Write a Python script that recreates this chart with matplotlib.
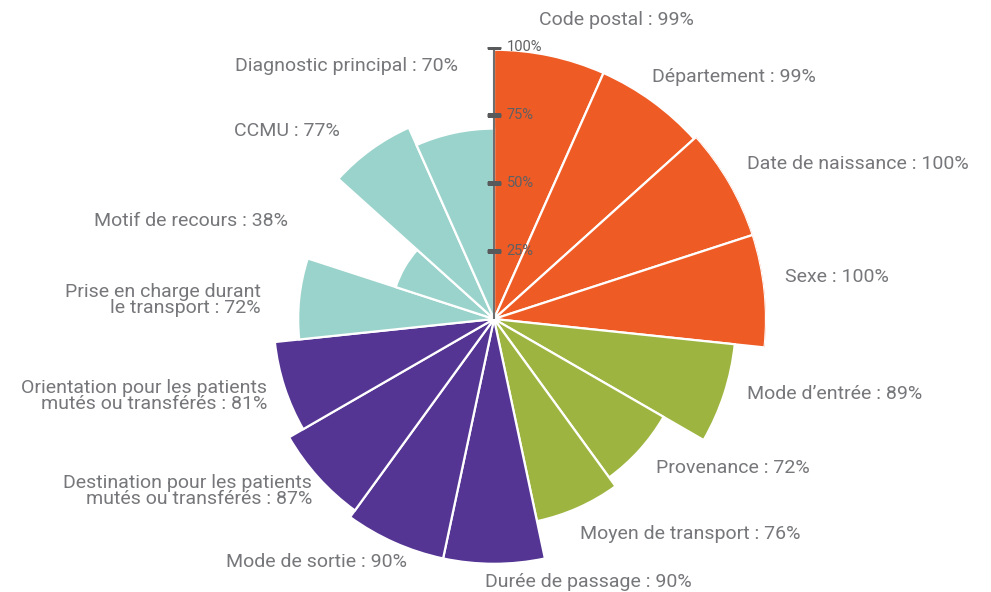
"""
polar bar chart: completeness of fields (RPU)
"""

import numpy as np
import matplotlib
matplotlib.use('Agg')
import matplotlib.pyplot as plt

# data, clockwise from the top
labels = ['Code postal : 99%',
          'Département : 99%',
          'Date de naissance : 100%',
          'Sexe : 100%',
          'Mode d\u2019entrée : 89%',
          'Provenance : 72%',
          'Moyen de transport : 76%',
          'Durée de passage : 90%',
          'Mode de sortie : 90%',
          'Destination pour les patients\nmutés ou transférés : 87%',
          'Orientation pour les patients\nmutés ou transférés : 81%',
          'Prise en charge durant\nle transport : 72%',
          'Motif de recours : 38%',
          'CCMU : 77%',
          'Diagnostic principal : 70%']
values = [99, 99, 100, 100, 89, 72, 76, 90, 90, 87, 81, 72, 38, 77, 70]
groups = [0, 0, 0, 0, 1, 1, 1, 2, 2, 2, 2, 3, 3, 3, 3]
radial_ticks = [25, 50, 75, 100]

group_colors = ['#EF5B25', '#9DB540', '#553594', '#9AD3CB']
txt_color = '#6D6E70'

# label anchors in pixels (x, y from top-left) and alignment
label_pos = [(539, 20), (652, 77), (747, 164), (785, 277), (747, 394),
             (656, 468), (580, 534), (485, 582), (407, 562), (312, 491),
             (267, 396), (261, 300), (288, 221), (340, 131), (458, 66)]
label_ha = ['left'] * 8 + ['right'] * 7

W, H = 991, 592
cx, cy, R = 494, 319, 272

plt.rcParams['font.family'] = ['Roboto', 'DejaVu Sans']

fig = plt.figure(figsize=(W / 100, H / 100), dpi=100)
ax = fig.add_axes([(cx - R) / W, (H - cy - R) / H, 2 * R / W, 2 * R / H],
                  projection='polar')
ax.set_theta_zero_location('N')
ax.set_theta_direction(-1)
ax.set_ylim(0, 100)
ax.axis('off')

n = len(values)
width = 2 * np.pi / n
theta = np.arange(n) * width + width / 2
ax.bar(theta, values, width=width, bottom=0,
       color=[group_colors[g] for g in groups],
       edgecolor='white', linewidth=1.6, zorder=2)

# radial scale on the vertical axis
ax.plot([0, 0], [0, 100], color=txt_color, lw=1.5, zorder=3,
        solid_capstyle='butt')
ax.plot([0] * len(radial_ticks), radial_ticks, ls='none', marker='_',
        markersize=10, mew=2.5, color='#58595B', zorder=3)
for t in radial_ticks:
    ax.annotate('{0}%'.format(t), xy=(0, t), xytext=(9, 0),
                textcoords='offset points', ha='left', va='center',
                fontsize=10.5, color='#5F6063', zorder=4)

for lab, (px, py), ha in zip(labels, label_pos, label_ha):
    fig.text(px / W, 1 - py / H, lab, ha=ha, va='center',
             multialignment='right' if ha == 'right' else 'left',
             fontsize=14, color='#76777A', fontweight='normal',
             linespacing=0.92)

fig.savefig('out.png', dpi=100)
